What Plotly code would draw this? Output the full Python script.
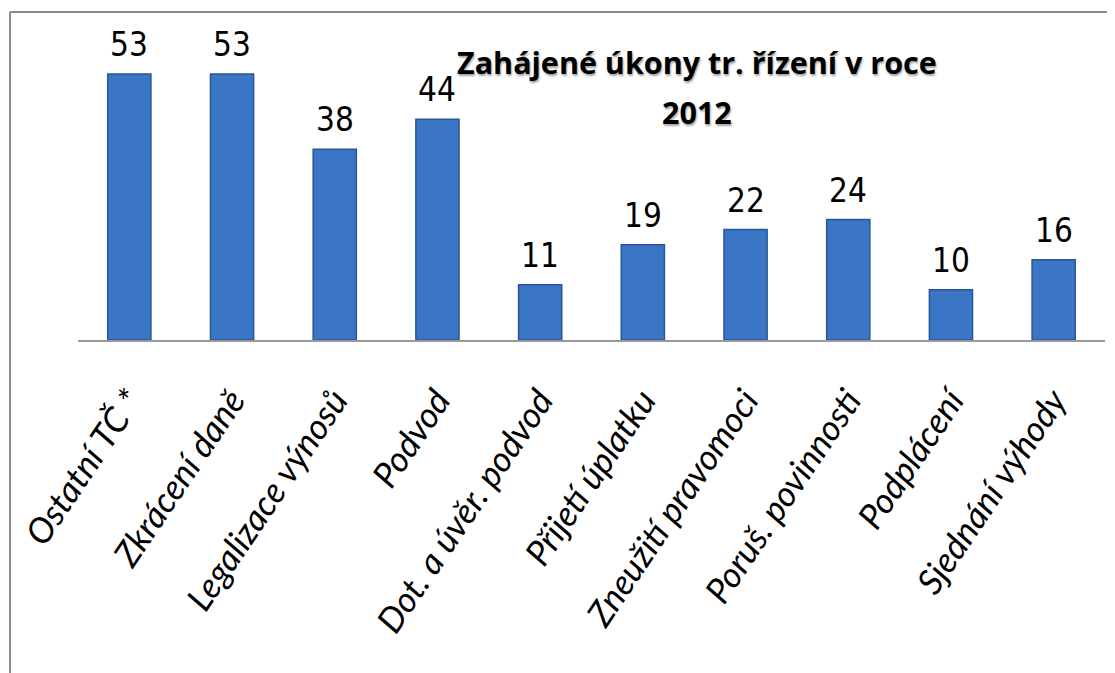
import plotly.graph_objects as go

categories = ["Ostatní TČ *", "Zkrácení daně", "Legalizace výnosů", "Podvod",
              "Dot. a úvěr. podvod", "Přijetí úplatku", "Zneužití pravomoci",
              "Poruš. povinnosti", "Podplácení", "Sjednání výhody"]
values = [53, 53, 38, 44, 11, 19, 22, 24, 10, 16]
title_lines = ["Zahájené úkony tr. řízení v roce", "2012"]

# page has an 8px body margin; figure coords = page coords - 8
OFF = 8
W, H = 1107, 665
L = 78 - OFF
R = W - (1105 - OFF)
T = 20 - OFF
B = H - (340 - OFF)
pw = W - L - R
ph = H - T - B

fig = go.Figure()
fig.add_trace(go.Bar(
    x=categories, y=values, width=0.42,
    marker=dict(color="#3B76C6", line=dict(color="#2A5594", width=1.5)),
    hoverinfo="x+y",
))

num_font = dict(family="DejaVu Sans Condensed, Liberation Sans Narrow, Roboto, sans-serif",
                size=33, color="#000")
for c, v in zip(categories, values):
    fig.add_annotation(x=c, y=v, text=str(v), showarrow=False, yanchor="bottom",
                       yshift=8, font=num_font)

title_font = dict(family="Open Sans", size=30.5, weight="bold", color="#000",
                  shadow="1px 2px 2px rgba(0,0,0,0.35)")

fig.add_annotation(xref="paper", yref="paper", x=(697 - OFF - L) / pw,
                   y=(340 - 62) / ph, text=title_lines[0], showarrow=False,
                   xanchor="center", yanchor="middle", font=title_font)
fig.add_annotation(xref="paper", yref="paper", x=(697 - OFF - L) / pw,
                   y=(340 - 112) / ph, text=title_lines[1], showarrow=False,
                   xanchor="center", yanchor="middle", font=title_font)

bx = (10 - 78) / pw
by = (340 - 12) / ph
fig.add_shape(type="line", xref="paper", yref="paper", x0=bx, x1=bx, y0=by, y1=-1.3,
              line=dict(color="#8c8c8c", width=2))
fig.add_shape(type="line", xref="paper", yref="paper", x0=bx, x1=1.1, y0=by, y1=by,
              line=dict(color="#8c8c8c", width=2))

fig.update_layout(
    width=W, height=H,
    margin=dict(l=L, r=R, t=T, b=B, autoexpand=False),
    paper_bgcolor="white", plot_bgcolor="white",
    showlegend=False,
    xaxis=dict(showline=True, linecolor="#999999", linewidth=2, ticks="",
               tickangle=-56, ticklabelstandoff=24, automargin=False,
               tickfont=dict(family="Lato", size=35, style="italic", color="#000")),
    yaxis=dict(range=[0, ph / 266 * 53], visible=False, showgrid=False, automargin=False),
)

fig.write_html("out.html")
